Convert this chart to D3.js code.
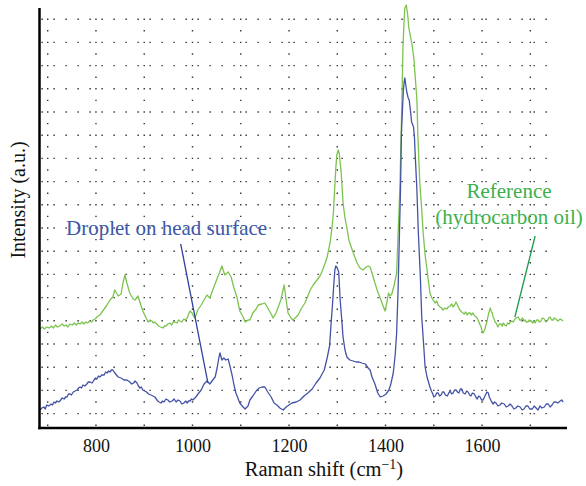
<!DOCTYPE html>
<html>
<head>
<meta charset="utf-8">
<script src="https://cdn.jsdelivr.net/npm/d3@7/dist/d3.min.js"></script>
<style>
html,body{margin:0;padding:0;background:#fff;}
svg{display:block;}
</style>
</head>
<body>
<svg id="chart" width="586" height="486"></svg>
<script>
// ---- data: [Raman shift (cm^-1), intensity (a.u.)] ----
const xTicks = [800, 1000, 1200, 1400, 1600];
const gridShifts = [700, 800, 900, 1000, 1100, 1200, 1300, 1400, 1500, 1600, 1700];

const refSpectrum = [
[684,99],[689,101],[693,99],[698,101],[703,100],[708,102],[712,100],[716,103],[720,101],[725,102],[730,104],[734,102],[738,103],[742,101],[746,104],[751,103],[755,105],[759,103],[763,105],[767,104],[771,106],[775,104],[779,106],[783,105],[787,107],[791,106],[794,108],[798,109],[802,111],[808,113],
[817,119],[823,123],[829,128],[835,131],[839,138],[846,132],[852,134],[856,145],[860,153],[864,145],[870,135],[877,129],[881,128],[887,132],[891,126],[897,117],[904,110],
[908,106],[912,108],[916,107],[919,105],[922,106],[926,104],[930,102],[934,101],[939,100],[942,102],[945,102],[949,104],[953,105],[957,103],[960,106],[964,106],[968,105],[971,108],[974,107],[978,106],[982,109],[985,108],[989,110],[992,114],[995,117],[997,116],[999,115],[1002,112],[1005,110],
[1011,118],[1018,123],[1024,128],[1030,133],[1036,130],[1042,138],[1049,147],[1055,154],[1061,162],[1067,153],[1074,156],[1080,151],[1086,140],[1092,131],[1098,117],[1105,111],[1109,106],[1115,108],[1119,108],[1125,115],[1132,119],[1136,123],[1144,124],[1150,125],[1156,120],[1163,114],[1167,110],[1173,115],[1177,120],[1183,128],[1190,143],[1194,128],[1198,115],[1204,110],[1208,108],[1215,111],[1219,113],[1225,119],[1233,125],[1239,132],[1244,138],[1250,143],[1258,148],[1264,152],[1268,156],[1275,165],[1279,171],[1285,185],[1289,200],[1292,215],[1295,243],[1297,260],[1299,273],[1302,278],[1304,275],[1308,256],[1312,225],[1316,210],[1320,200],[1324,188],[1331,178],[1337,170],[1341,165],[1347,160],[1353,158],[1360,161],[1364,162],[1368,161],[1372,155],[1378,145],[1384,136],[1389,130],[1395,122],[1399,117],[1403,126],[1406,135],[1409,132],[1413,134],[1418,143],[1423,155],[1426,195],[1428,218],[1430,245],[1432,288],[1434,328],[1436,378],[1438,403],[1440,420],[1443,423],[1446,413],[1448,401],[1451,393],[1455,383],[1459,368],[1462,348],[1465,328],[1467,293],[1469,268],[1471,245],[1475,218],[1478,195],[1482,173],[1486,158],
[1492,135],[1496,130],[1500,127],[1503,125],[1506,127],[1509,123],[1513,121],[1516,120],[1519,118],[1523,120],[1527,119],[1530,121],[1534,122],[1537,124],[1540,121],[1543,123],[1546,126],[1548,124],[1550,122],[1552,120],[1554,118],[1558,116],[1563,114],[1566,116],[1569,113],[1572,115],[1575,115],[1578,113],[1581,115],[1585,112],[1588,111],[1592,108],[1595,104],[1598,101],[1600,97],[1602,95],[1604,97],[1606,99],[1608,103],[1610,106],[1612,111],[1614,115],[1617,120],[1619,117],[1621,115],[1623,111],[1625,109],[1627,106],[1629,105],[1631,103],[1633,101],[1636,104],[1639,104],[1642,102],[1644,105],[1647,103],[1650,102],[1653,105],[1656,104],[1659,106],[1662,107],[1665,106],[1668,109],[1671,110],[1675,111],[1678,108],[1681,108],[1684,110],[1687,107],[1689,108],[1692,106],[1695,106],[1698,108],[1702,107],[1705,105],[1708,107],[1710,105],[1713,108],[1716,108],[1719,106],[1722,107],[1725,110],[1729,109],[1732,106],[1735,107],[1738,110],[1741,111],[1744,108],[1747,108],[1750,110],[1753,109],[1757,107],[1762,109],[1765,108],[1768,107]
];

const dropletSpectrum = [
[684,18],[688,20],[692,21],[695,19],[698,23],[702,22],[707,24],[710,23],[713,26],[716,25],[719,27],[723,26],[727,28],[730,30],[734,29],[737,31],[740,31],[743,34],[746,34],[749,33],[753,36],[757,37],[761,38],[764,40],[767,41],[770,40],[773,43],[777,42],[781,44],[784,46],[788,46],[792,45],[796,48],[799,50],[802,49],[805,52],[808,51],[812,53],[817,53],[820,56],[823,55],[826,57],[829,56],[832,58],[835,58],
[839,55],[846,51],[852,50],[858,48],[864,48],
[870,46],[874,44],[878,45],[881,47],[885,45],[888,42],[891,40],[894,41],[897,38],[901,37],[905,36],[909,34],[914,33],[918,32],[922,31],[925,29],[928,27],[931,26],[935,25],[938,27],[941,26],[945,29],[949,28],[953,26],[958,27],[962,29],[966,26],[970,28],[974,27],[978,24],[982,25],[986,27],[989,25],[992,27],[995,27],[998,29],[1001,28],
[1007,31],[1013,35],[1018,38],[1024,44],[1030,47],[1036,44],[1042,48],[1047,51],[1051,60],[1055,71],[1057,75],[1061,68],[1065,70],[1069,68],[1074,69],[1078,61],[1082,53],[1086,43],[1090,35],[1094,30],[1098,25],[1103,22],[1109,19],[1115,22],[1119,28],[1125,32],[1132,37],[1138,40],[1144,41],[1150,41],[1156,36],[1163,31],[1169,25],[1175,23],[1181,20],[1188,18],[1194,21],[1200,23],[1206,25],[1215,26],[1223,28],[1231,32],[1239,35],[1248,39],[1256,45],[1264,50],[1273,58],[1279,70],[1284,82],[1287,103],[1290,123],[1293,145],[1295,158],[1297,162],[1300,160],[1303,156],[1306,128],[1309,110],[1312,91],[1316,78],[1320,71],[1326,68],[1333,67],[1339,66],[1345,66],[1351,65],[1358,64],[1364,60],[1368,58],[1372,51],[1378,44],[1384,35],[1389,31],[1395,32],[1401,34],[1407,38],[1411,44],[1416,55],[1420,73],[1423,95],[1426,138],[1428,178],[1431,238],[1433,295],[1435,318],[1437,338],[1439,348],[1440,350],[1442,343],[1444,336],[1447,330],[1449,328],[1452,316],[1454,306],[1458,301],[1460,290],[1461,278],[1465,238],[1468,195],[1472,153],[1475,111],[1479,83],[1482,61],[1486,51],
[1492,41],[1495,37],[1498,34],[1500,31],[1503,32],[1506,35],[1509,35],[1512,32],[1515,33],[1518,36],[1521,36],[1524,33],[1528,32],[1531,35],[1534,37],[1537,34],[1540,35],[1543,38],[1546,38],[1549,36],[1552,35],[1555,39],[1558,39],[1561,35],[1565,34],[1568,37],[1571,36],[1574,33],[1577,32],[1580,35],[1584,34],[1587,31],[1590,29],[1593,32],[1596,31],[1599,28],[1602,28],[1605,31],[1608,34],[1610,36],[1613,35],[1615,31],[1617,29],[1620,26],[1623,24],[1626,26],[1629,25],[1633,22],[1637,23],[1641,25],[1646,24],[1650,21],[1654,22],[1658,24],[1662,22],[1666,19],[1670,20],[1674,22],[1679,21],[1683,18],[1687,19],[1691,22],[1695,22],[1699,19],[1704,19],[1708,22],[1712,20],[1716,18],[1720,22],[1724,20],[1729,21],[1733,24],[1737,24],[1741,21],[1745,23],[1749,26],[1753,26],[1757,25],[1762,27],[1765,28],[1768,26]
];

const dropLabel = "Droplet on head surface";
const refLabel = ["Reference", "(hydrocarbon oil)"];

// ---- layout ----
const FONT = '"Liberation Serif", "DejaVu Serif", serif';
const svg = d3.select("#chart");
const x = d3.scaleLinear().domain([683, 1776]).range([39.5, 567]);
const y = d3.scaleLinear().domain([0, 420]).range([428, 8]);

const refColor = "#7cc44f", dropColor = "#4453a6";

// grid (dotted)
const gridRowValues = d3.range(18).map(k => 14.4 + 23.2 * k);
const gg = svg.append("g").attr("stroke", "#333").attr("stroke-width", 1.4);
gg.selectAll("line.row").data(gridRowValues).join("line")
  .attr("x1", x(687)).attr("x2", x(1756))
  .attr("y1", d => y(d)).attr("y2", d => y(d))
  .attr("stroke-dasharray", "1.4,10.6");
gg.selectAll("line.col").data(gridShifts).join("line")
  .attr("x1", d => x(d)).attr("x2", d => x(d))
  .attr("y1", y(gridRowValues[17]) - 0.7).attr("y2", y(0))
  .attr("stroke-dasharray", "1.4,10.2");

// spectra
const line = d3.line().x(d => x(d[0])).y(d => y(d[1]));
svg.append("path").attr("d", line(refSpectrum))
  .attr("fill", "none").attr("stroke", refColor).attr("stroke-width", 1.3).attr("stroke-linejoin", "round");
svg.append("path").attr("d", line(dropletSpectrum))
  .attr("fill", "none").attr("stroke", dropColor).attr("stroke-width", 1.3).attr("stroke-linejoin", "round");

// axes
svg.append("line").attr("x1", x(683)).attr("x2", x(683)).attr("y1", y(420)).attr("y2", y(0) + 1.2)
  .attr("stroke", "#000").attr("stroke-width", 2.5);
svg.append("line").attr("x1", x(683) - 1.2).attr("x2", x(1776)).attr("y1", y(0)).attr("y2", y(0))
  .attr("stroke", "#000").attr("stroke-width", 2.5);

const ax = svg.append("g").attr("transform", `translate(0,${y(0)})`)
  .call(d3.axisBottom(x).tickValues(xTicks).tickSize(0).tickPadding(0).tickFormat(d3.format("d")));
ax.attr("font-family", FONT).attr("font-size", 18);
ax.select(".domain").remove();
ax.selectAll("text").attr("dy", null).attr("y", 24).attr("fill", "#111");

// axis titles
const xt = svg.append("text").attr("x", 324).attr("y", 476).attr("text-anchor", "middle")
  .attr("font-family", FONT).attr("font-size", 20.5).attr("fill", "#111");
xt.append("tspan").text("Raman shift (cm");
xt.append("tspan").text("\u2212" + "1").attr("font-size", 14).attr("dy", -7);
xt.append("tspan").text(")").attr("dy", 7);

svg.append("text").attr("transform", "translate(25,200) rotate(-90)").attr("text-anchor", "middle")
  .attr("font-family", FONT).attr("font-size", 20).attr("fill", "#111").text("Intensity (a.u.)");

// annotations
svg.append("line").attr("x1", x(975.6)).attr("y1", y(184)).attr("x2", x(1032)).attr("y2", y(45))
  .attr("stroke", "#2b3f9e").attr("stroke-width", 1.3);
svg.append("text").attr("x", 66).attr("y", 235).attr("font-family", FONT).attr("font-size", 21)
  .attr("fill", "#3d57a8").text(dropLabel);

svg.append("line").attr("x1", x(1710)).attr("y1", y(192)).attr("x2", x(1668)).attr("y2", y(111))
  .attr("stroke", "#1d9a4a").attr("stroke-width", 1.3);
svg.selectAll("text.ref").data(refLabel).join("text")
  .attr("x", 509).attr("y", (d, i) => 198 + i * 26).attr("text-anchor", "middle")
  .attr("font-family", FONT).attr("font-size", 21).attr("fill", "#3cb04c").text(d => d);
</script>
</body>
</html>
